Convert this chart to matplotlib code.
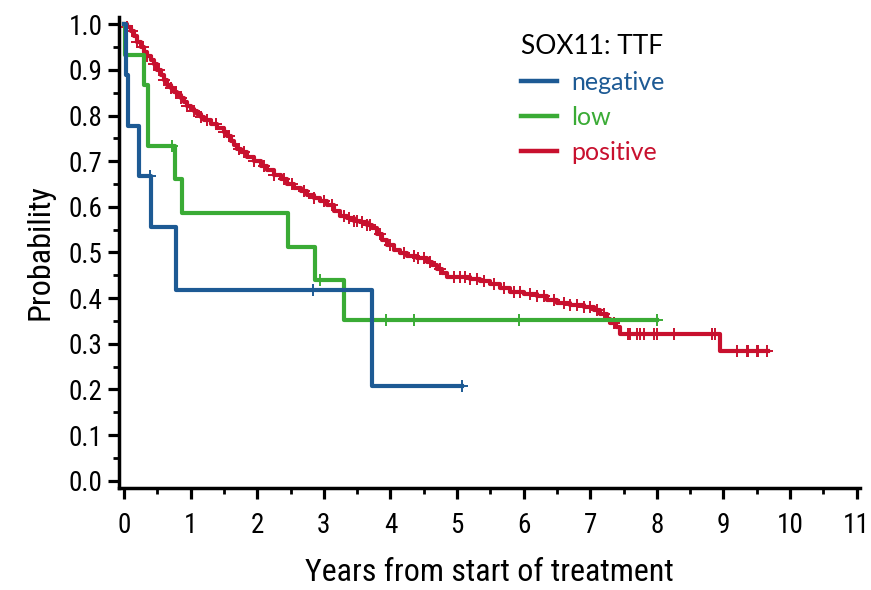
import numpy as np
import matplotlib
matplotlib.use("Agg")
import matplotlib.pyplot as plt
from matplotlib import font_manager
from matplotlib.ticker import MultipleLocator

# ---------------- data ----------------
neg_t = [0.0, 0.03, 0.065, 0.23, 0.41, 0.78, 3.73, 5.08]
neg_s = [1.0, 0.889, 0.778, 0.667, 0.556, 0.417, 0.208, 0.208]
neg_censor = [0.39, 2.84, 5.08]

low_t = [0.0, 0.015, 0.30, 0.36, 0.76, 0.87, 2.46, 2.87, 3.30, 8.0]
low_s = [1.0, 0.933, 0.867, 0.733, 0.66, 0.587, 0.513, 0.44, 0.352, 0.352]
low_censor = [0.72, 2.94, 3.94, 4.35, 5.93, 8.0]

pos_t = [0.00, 0.05, 0.10, 0.15, 0.20, 0.25, 0.30, 0.35, 0.40, 0.45, 0.50, 0.55,
         0.60, 0.65, 0.70, 0.75, 0.80, 0.85, 0.90, 0.95, 1.00, 1.05, 1.10, 1.15,
         1.20, 1.30, 1.40, 1.50, 1.55, 1.60, 1.65, 1.70, 1.75, 1.85, 1.95, 2.05,
         2.15, 2.25, 2.35, 2.45, 2.55, 2.65, 2.75, 2.85, 2.95, 3.05, 3.15, 3.25,
         3.35, 3.45, 3.55, 3.65, 3.72, 3.80, 3.88, 3.95, 4.05, 4.15, 4.25, 4.40,
         4.55, 4.62, 4.70, 4.78, 4.85, 5.20, 5.35, 5.50, 5.65, 5.80, 6.00, 6.20,
         6.35, 6.50, 6.70, 6.90, 7.05, 7.15, 7.25, 7.30, 7.38, 7.45, 8.95, 9.67]
pos_s = [1.000, 0.995, 0.985, 0.975, 0.962, 0.950, 0.940, 0.930, 0.922, 0.912, 0.900, 0.890,
         0.878, 0.868, 0.860, 0.852, 0.845, 0.838, 0.830, 0.822, 0.815, 0.810, 0.803, 0.797,
         0.790, 0.782, 0.772, 0.763, 0.755, 0.745, 0.735, 0.727, 0.720, 0.710, 0.700, 0.690,
         0.680, 0.670, 0.660, 0.650, 0.642, 0.635, 0.627, 0.620, 0.612, 0.603, 0.592, 0.580,
         0.575, 0.570, 0.566, 0.560, 0.553, 0.540, 0.527, 0.517, 0.505, 0.498, 0.493, 0.487,
         0.480, 0.472, 0.464, 0.455, 0.446, 0.443, 0.437, 0.431, 0.422, 0.413, 0.408, 0.404,
         0.397, 0.390, 0.386, 0.381, 0.375, 0.366, 0.355, 0.346, 0.337, 0.322, 0.285, 0.285]
pos_censor = [0.05, 0.12, 0.20, 0.28, 0.35, 0.45, 0.52, 0.60, 0.70, 0.78, 0.85, 0.95,
              1.05, 1.15, 1.25, 1.38, 1.50, 1.58, 1.72, 1.80, 1.95, 2.10, 2.25, 2.40,
              2.52, 2.70, 2.85, 3.00, 3.12, 3.30, 3.38, 3.45, 3.50, 3.58, 3.65, 3.70,
              3.85, 4.00, 4.20, 4.35, 4.42, 4.50, 4.60, 4.75, 4.95, 5.05, 5.12, 5.20,
              5.30, 5.40, 5.55, 5.70, 5.85, 5.95, 6.10, 6.20, 6.30, 6.45, 6.60, 6.70,
              6.80, 6.90, 7.00, 7.10, 7.20, 7.35, 7.57, 7.60, 7.70, 7.75, 7.80, 7.95,
              8.00, 8.25, 8.83, 8.87, 9.20, 9.35, 9.37, 9.50, 9.52, 9.65]

labels = ["negative", "low", "positive"]
colors = ["#1d5a94", "#3aab35", "#c8102e"]
legend_title = "SOX11: TTF"
x_label = "Years from start of treatment"
y_label = "Probability"
x_ticks = list(range(0, 12))
y_ticks = [round(v * 0.1, 1) for v in range(0, 11)]

# ---------------- fonts ----------------
names = {f.name for f in font_manager.fontManager.ttflist}
cond = "DejaVu Sans"
for cand in ["Liberation Sans Narrow", "Roboto Condensed", "Open Sans Condensed",
             "DejaVu Sans Condensed"]:
    if cand in names:
        cond = cand
        break
legend_font = "Lato" if "Lato" in names else "DejaVu Sans"

# ---------------- figure ----------------
fig = plt.figure(figsize=(8.71, 5.90), dpi=100)
ax = fig.add_axes([119 / 871, 1 - 488 / 590, (860 - 119) / 871, (488 - 17) / 590])


def surv_at(t, s, c):
    t = np.asarray(t)
    s = np.asarray(s)
    idx = np.searchsorted(t, c, side="right") - 1
    return s[np.clip(idx, 0, len(s) - 1)]


series = [(neg_t, neg_s, neg_censor), (low_t, low_s, low_censor), (pos_t, pos_s, pos_censor)]
order = [2, 1, 0]
handles = [None] * 3
for i in order:
    t, s, c = series[i]
    (ln,) = ax.step(t, s, where="post", color=colors[i], lw=3.0, label=labels[i],
                    zorder=3 + (2 - i))
    handles[i] = ln
    ax.plot(c, surv_at(t, s, c), ls="none", marker="+", ms=9, mew=1.4,
            color=colors[i], zorder=3 + (2 - i))

ax.set_xlim(-0.075, 11.05)
ax.set_ylim(-0.016, 1.016)
ax.set_xticks(x_ticks)
ax.set_yticks(y_ticks)
ax.set_yticklabels([f"{v:.1f}" for v in y_ticks])
ax.xaxis.set_minor_locator(MultipleLocator(0.5))
ax.yaxis.set_minor_locator(MultipleLocator(0.05))

for sp in ["top", "right"]:
    ax.spines[sp].set_visible(False)
for sp in ["left", "bottom"]:
    ax.spines[sp].set_linewidth(2.5)

ax.tick_params(axis="both", which="major", length=8, width=2.3, direction="out",
               labelsize=19.5)
ax.tick_params(axis="x", which="major", pad=9)
ax.tick_params(axis="y", which="major", pad=4)
ax.tick_params(axis="both", which="minor", length=4.5, width=2.0, direction="out")
for lab in ax.get_xticklabels() + ax.get_yticklabels():
    lab.set_fontfamily(cond)

ax.set_xlabel(x_label, fontsize=23, family=cond, labelpad=14)
ax.set_ylabel(y_label, fontsize=23, family=cond, labelpad=10)

leg = ax.legend(handles=handles, labels=labels, loc="upper left",
                bbox_to_anchor=(0.512, 1.012), frameon=False, title=legend_title,
                labelcolor="linecolor", alignment="left",
                prop={"family": legend_font, "size": 18},
                title_fontproperties={"family": legend_font, "size": 19},
                handlelength=1.45, handletextpad=0.55, labelspacing=0.48)
for h in leg.get_lines():
    h.set_linewidth(3.2)

fig.savefig("out.png", dpi=100)
